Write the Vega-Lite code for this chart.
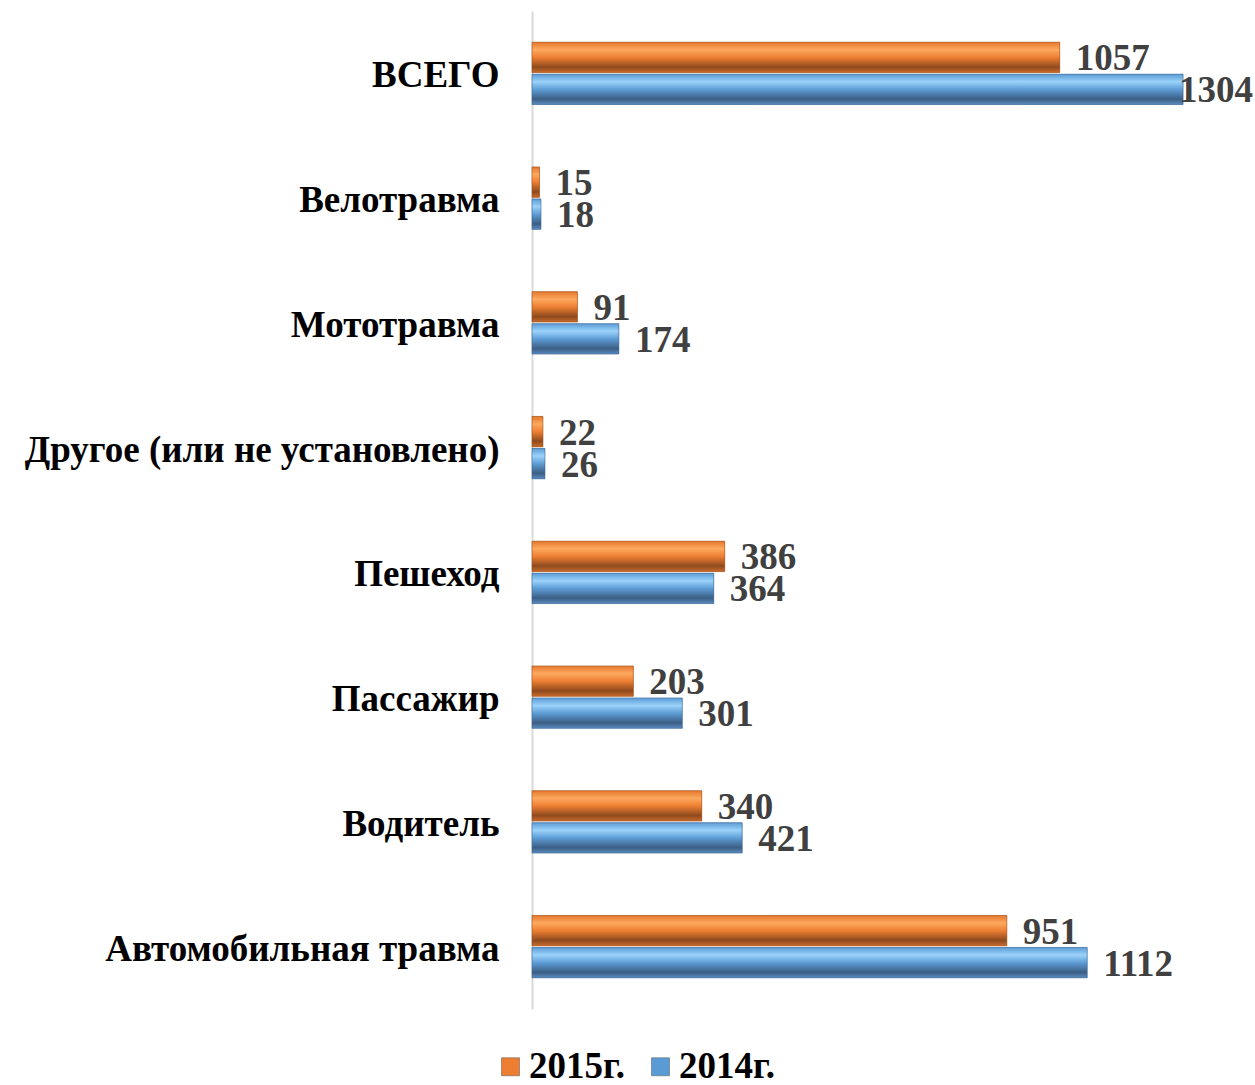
{
  "$schema": "https://vega.github.io/schema/vega-lite/v6.json",
  "width": 699,
  "height": 998,
  "autosize": {"type": "none"},
  "padding": {"left": 532, "top": 11, "right": 24, "bottom": 76},
  "background": "white",
  "data": {
    "values": [
      {"category": "ВСЕГО", "year": "2015г.", "value": 1057},
      {"category": "ВСЕГО", "year": "2014г.", "value": 1304},
      {"category": "Велотравма", "year": "2015г.", "value": 15},
      {"category": "Велотравма", "year": "2014г.", "value": 18},
      {"category": "Мототравма", "year": "2015г.", "value": 91},
      {"category": "Мототравма", "year": "2014г.", "value": 174},
      {"category": "Другое (или не установлено)", "year": "2015г.", "value": 22},
      {"category": "Другое (или не установлено)", "year": "2014г.", "value": 26},
      {"category": "Пешеход", "year": "2015г.", "value": 386},
      {"category": "Пешеход", "year": "2014г.", "value": 364},
      {"category": "Пассажир", "year": "2015г.", "value": 203},
      {"category": "Пассажир", "year": "2014г.", "value": 301},
      {"category": "Водитель", "year": "2015г.", "value": 340},
      {"category": "Водитель", "year": "2014г.", "value": 421},
      {"category": "Автомобильная травма", "year": "2015г.", "value": 951},
      {"category": "Автомобильная травма", "year": "2014г.", "value": 1112}
    ]
  },
  "encoding": {
    "y": {
      "field": "category",
      "type": "nominal",
      "sort": ["ВСЕГО", "Велотравма", "Мототравма", "Другое (или не установлено)", "Пешеход", "Пассажир", "Водитель", "Автомобильная травма"],
      "scale": {"paddingInner": 0.5, "paddingOuter": 0.25},
      "axis": {
        "title": null,
        "ticks": false,
        "grid": false,
        "domain": true,
        "domainColor": "#d9d9d9",
        "domainWidth": 2,
        "labelFont": "Liberation Serif",
        "labelFontSize": 37,
        "labelFontWeight": "bold",
        "labelColor": "#000000",
        "labelPadding": 33,
        "labelOffset": 3,
        "labelLimit": 600
      }
    },
    "yOffset": {
      "field": "year",
      "type": "nominal",
      "sort": ["2015г.", "2014г."],
      "scale": {"paddingInner": 0.05}
    },
    "x": {
      "field": "value",
      "type": "quantitative",
      "scale": {"domain": [0, 1400]},
      "axis": null
    }
  },
  "layer": [
    {
      "mark": {"type": "bar"},
      "encoding": {
        "color": {
          "field": "year",
          "type": "nominal",
          "sort": ["2015г.", "2014г."],
          "scale": {"domain": ["2015г.", "2014г."], "range": ["#ED7D31", "#5B9BD5"]},
          "legend": {
            "title": null,
            "orient": "none",
            "direction": "horizontal",
            "legendX": -40,
            "legendY": 1037,
            "symbolType": "square",
            "symbolSize": 324,
            "symbolStrokeColor": "#555555",
            "symbolStrokeWidth": 0.5,
            "labelFont": "Liberation Serif",
            "labelFontSize": 37,
            "labelFontWeight": "bold",
            "labelColor": "#000000",
            "labelOffset": 0,
            "columnPadding": 17
          }
        }
      }
    },
    {
      "transform": [{"filter": "datum.year === '2015г.'"}],
      "mark": {
        "type": "bar",
        "stroke": "#A0521C",
        "strokeWidth": 0.6,
        "fill": {
          "gradient": "linear", "x1": 0, "y1": 0, "x2": 0, "y2": 1,
          "stops": [
            {"offset": 0, "color": "#E5772E"},
            {"offset": 0.25, "color": "#FCA95E"},
            {"offset": 0.5, "color": "#EE7F33"},
            {"offset": 0.82, "color": "#8E4A1E"},
            {"offset": 1, "color": "#C96A2B"}
          ]
        }
      }
    },
    {
      "transform": [{"filter": "datum.year === '2014г.'"}],
      "mark": {
        "type": "bar",
        "stroke": "#3E6590",
        "strokeWidth": 0.6,
        "fill": {
          "gradient": "linear", "x1": 0, "y1": 0, "x2": 0, "y2": 1,
          "stops": [
            {"offset": 0, "color": "#5B9BD5"},
            {"offset": 0.25, "color": "#9AD2FA"},
            {"offset": 0.5, "color": "#5E9DD6"},
            {"offset": 0.82, "color": "#3B5E84"},
            {"offset": 1, "color": "#5A8BC0"}
          ]
        }
      }
    },
    {
      "transform": [{"filter": "datum.value < 1200"}],
      "mark": {
        "type": "text",
        "align": "left",
        "baseline": "middle",
        "dx": 16,
        "dy": 2,
        "font": "Liberation Serif",
        "fontSize": 37,
        "fontWeight": "bold",
        "color": "#404040"
      },
      "encoding": {"text": {"field": "value", "type": "quantitative"}}
    },
    {
      "transform": [{"filter": "datum.value >= 1200"}],
      "mark": {
        "type": "text",
        "align": "left",
        "baseline": "middle",
        "dx": -4,
        "dy": 2,
        "font": "Liberation Serif",
        "fontSize": 37,
        "fontWeight": "bold",
        "color": "#404040"
      },
      "encoding": {"text": {"field": "value", "type": "quantitative"}}
    }
  ],
  "config": {"view": {"stroke": null}}
}
